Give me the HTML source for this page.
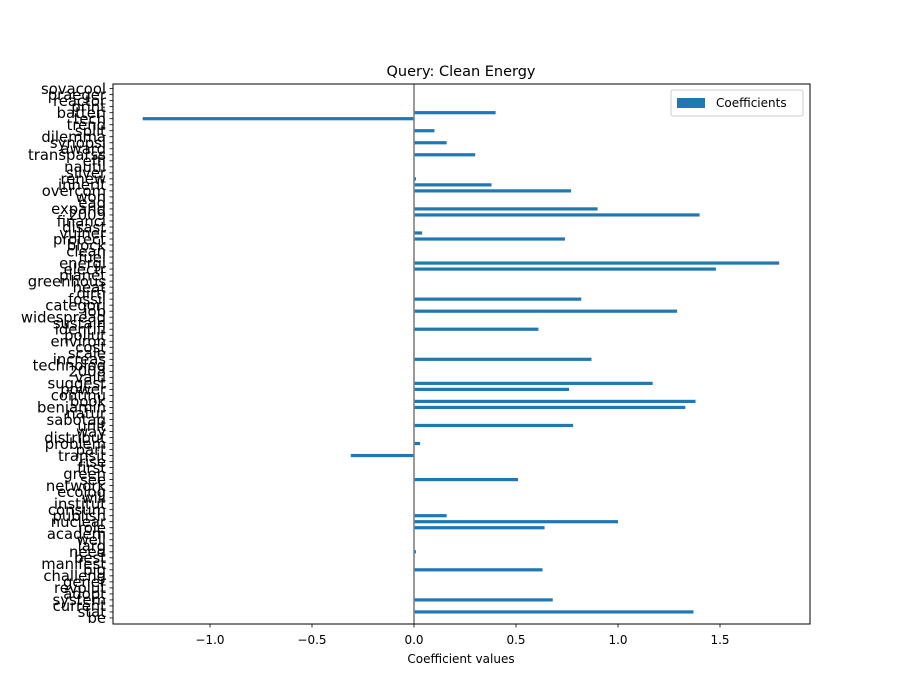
<!DOCTYPE html>
<html><head><meta charset="utf-8"><style>
body{margin:0;background:#fff}
svg{display:block;font-family:"DejaVu Sans","Liberation Sans",sans-serif}
</style></head><body>
<svg id="chart" width="900" height="700">
<rect width="900" height="700" fill="#fff"/>
<text x="461" y="76" text-anchor="middle" font-size="14.5">Query: Clean Energy</text>
<text x="461" y="663" text-anchor="middle" font-size="12">Coefficient values</text>
<g id="bars"></g><g id="xticks"></g><g id="yticks"></g>
<line x1="414" y1="84" x2="414" y2="624" stroke="#808080" stroke-width="1.6"/>
<rect x="113" y="84" width="697" height="540" fill="none" stroke="#000" stroke-width="1"/>
<g>
<rect x="671" y="90" width="132" height="26" rx="2" fill="#fff" stroke="#ccc"/>
<rect x="677" y="98" width="28" height="10" fill="#1f77b4"/>
<text x="716" y="107" font-size="12">Coefficients</text>
</g>
</svg>
<script>
const categories=["sovacool","praeger","reactor","print","batteri","tech","trend","split","dilemma","synopsi","award","transparss","effi","nautil","silver","renew","inherit","overcom","won","ead","expand","2009","financi","disast","vulner","protect","block","clean","fuel","energi","electr","planet","greenhous","heat","dirti","fossil","categori","job","widespread","sustain","identifi","pollut","environ","cost","scale","increas","technolog","2008","valu","suggest","power","continu","book","benjamin","natur","sabotag","unit","way","distribut","problem","part","transit","rise","first","green","see","network","ecolog","will","institut","consum","publish","nuclear","role","academ","well","larg","need","best","manifest","big","challeng","gener","revolut","adopt","system","current","stat","be"];
const values=[0,0,0,0,0.40,-1.33,0,0.10,0,0.16,0,0.30,0,0,0,0.01,0.38,0.77,0,0,0.90,1.40,0,0,0.04,0.74,0,0,0,1.79,1.48,0,0,0,0,0.82,0,1.29,0,0,0.61,0,0,0,0,0.87,0,0,0,1.17,0.76,0,1.38,1.33,0,0,0.78,0,0,0.03,0,-0.31,0,0,0,0.51,0,0,0,0,0,0.16,1.00,0.64,0,0,0,0.01,0,0,0.63,0,0,0,0,0.68,0,1.37,0];
const xTicks=[-1.0,-0.5,0.0,0.5,1.0,1.5];
const xTickLabels=["\u22121.0","\u22120.5","0.0","0.5","1.0","1.5"];
const NS="http://www.w3.org/2000/svg";
const xs=v=>414+v*204;
const step=6.015;
const ys=i=>359.3+(i-45)*step;
function mk(t,a,p){const e=document.createElementNS(NS,t);for(const k in a)e.setAttribute(k,a[k]);p.appendChild(e);return e;}
const bars=document.getElementById('bars'),yt=document.getElementById('yticks'),xt=document.getElementById('xticks');
values.forEach((v,i)=>{
  if(v===0)return;
  const r=mk('rect',{x:Math.min(xs(0),xs(v)),y:ys(i)-1.6,width:Math.abs(xs(v)-xs(0)),height:3.2,fill:'#1f77b4'},bars);
  
  
});
categories.forEach((c,i)=>{
  const y=ys(i);
  const l=mk('line',{x1:109.5,x2:113,y1:y,y2:y,stroke:'#000','stroke-width':0.8},yt);
  
  
  const t=mk('text',{x:106,y:y+5.3,'text-anchor':'end','font-size':14.8},yt);
  t.textContent=c;
  
  
});
xTicks.forEach((v,i)=>{
  const x=xs(v);
  const l=mk('line',{x1:x,x2:x,y1:624,y2:627.5,stroke:'#000','stroke-width':0.8},xt);
  
  
  const t=mk('text',{x:x,y:644,'text-anchor':'middle','font-size':12},xt);
  t.textContent=xTickLabels[i];
  
  
});
</script>
</body></html>
